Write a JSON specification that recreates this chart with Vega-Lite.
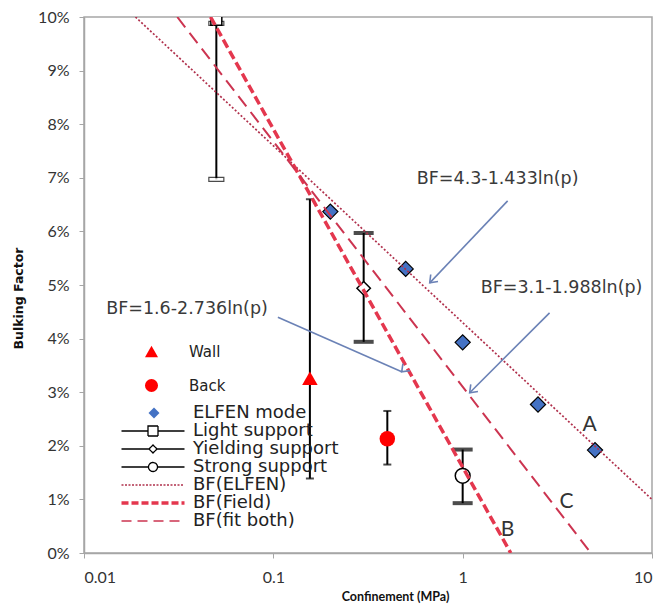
{
  "$schema": "https://vega.github.io/schema/vega-lite/v6.json",
  "width": 568,
  "height": 536,
  "autosize": {"type": "none"},
  "padding": {"left": 84, "top": 17, "right": 10, "bottom": 62},
  "background": "white",
  "config": {
    "font": "Lato",
    "view": {"stroke": "#A6A6A6", "strokeWidth": 1.5},
    "axis": {"grid": false, "domainColor": "#A6A6A6", "domainWidth": 1.5, "tickColor": "#A6A6A6", "tickSize": 5, "labelFont": "Lato", "labelFontSize": 16, "labelColor": "#333333", "titleFontWeight": "bold", "titleColor": "#111111"}
  },
  "datasets": {
    "pts": [
      {"series": "ELFEN mode", "p": 0.2, "bf": 0.0637},
      {"series": "ELFEN mode", "p": 0.5, "bf": 0.053},
      {"series": "ELFEN mode", "p": 1, "bf": 0.0393},
      {"series": "ELFEN mode", "p": 2.5, "bf": 0.0277},
      {"series": "ELFEN mode", "p": 5, "bf": 0.0192},
      {"series": "Light support", "p": 0.05, "bf": 0.0995, "lo": 0.0697, "hi": 0.0988},
      {"series": "Yielding support", "p": 0.3, "bf": 0.0494, "lo": 0.0394, "hi": 0.0597},
      {"series": "Strong support", "p": 1, "bf": 0.0144, "lo": 0.0093, "hi": 0.0193},
      {"series": "Wall", "p": 0.156, "bf": 0.0326, "lo": 0.0139, "hi": 0.066},
      {"series": "Back", "p": 0.4, "bf": 0.0213, "lo": 0.0165, "hi": 0.0265}
    ],
    "lines": [
      {"series": "BF(ELFEN)", "p": 0.0187, "bf": 0.1},
      {"series": "BF(ELFEN)", "p": 10, "bf": 0.01},
      {"series": "BF(Field)", "p": 0.0466, "bf": 0.1},
      {"series": "BF(Field)", "p": 1.795, "bf": 0},
      {"series": "BF(fit both)", "p": 0.0311, "bf": 0.1},
      {"series": "BF(fit both)", "p": 4.757, "bf": 0}
    ],
    "arrows": [
      {"id": "a1", "p": 1.728, "bf": 0.0657, "p2": 0.670, "bf2": 0.0504},
      {"id": "a2", "p": 2.877, "bf": 0.0448, "p2": 1.089, "bf2": 0.0299},
      {"id": "a3", "p": 0.1057, "bf": 0.0440, "p2": 0.4765, "bf2": 0.0338}
    ],
    "labels": [
      {"text": "BF=4.3-1.433ln(p)", "p": 1.53, "bf": 0.0698, "kind": "eq"},
      {"text": "BF=3.1-1.988ln(p)", "p": 3.33, "bf": 0.0494, "kind": "eq"},
      {"text": "BF=1.6-2.736ln(p)", "p": 0.035, "bf": 0.0455, "kind": "eq"},
      {"text": "A", "p": 4.68, "bf": 0.0239, "kind": "letter"},
      {"text": "B", "p": 1.728, "bf": 0.0043, "kind": "letter"},
      {"text": "C", "p": 3.54, "bf": 0.0095, "kind": "letter"}
    ]
  },
  "encoding": {
    "x": {"field": "p", "type": "quantitative", "scale": {"type": "log", "domain": [0.01, 10]},
      "axis": {"values": [0.01, 0.1, 1, 10], "format": "~g", "labelPadding": 11, "title": "Confinement (MPa)", "titleFont": "Lato", "titleFontSize": 12.5, "titleX": 311, "titleY": 47, "titleBaseline": "alphabetic"}},
    "y": {"field": "bf", "type": "quantitative", "scale": {"domain": [0, 0.1]},
      "axis": {"values": [0, 0.01, 0.02, 0.03, 0.04, 0.05, 0.06, 0.07, 0.08, 0.09, 0.1], "format": ".0%", "labelPadding": 10, "title": "Bulking Factor", "titleFont": "DejaVu Sans", "titleFontSize": 12.5, "titleX": -66, "titleY": 281, "titleBaseline": "middle", "titleAngle": 270}}
  },
  "layer": [
    {
      "data": {"name": "pts"},
      "transform": [{"filter": "isValid(datum.lo)"}],
      "mark": {"type": "rule", "color": "#000000", "strokeWidth": 2, "clip": true},
      "encoding": {"y": {"field": "lo", "type": "quantitative"}, "y2": {"field": "hi"}}
    },
    {
      "data": {"name": "pts"},
      "transform": [{"filter": "datum.series === 'Yielding support' || datum.series === 'Strong support'"}, {"fold": ["lo", "hi"], "as": ["end", "val"]}],
      "mark": {"type": "tick", "orient": "horizontal", "color": "#000000", "size": 20, "thickness": 4},
      "encoding": {"y": {"field": "val", "type": "quantitative"}}
    },
    {
      "data": {"name": "pts"},
      "transform": [{"filter": "datum.series === 'Wall' || datum.series === 'Back'"}, {"fold": ["lo", "hi"], "as": ["end", "val"]}],
      "mark": {"type": "tick", "orient": "horizontal", "color": "#000000", "size": 8, "thickness": 2},
      "encoding": {"y": {"field": "val", "type": "quantitative"}}
    },
    {
      "data": {"name": "pts"},
      "transform": [{"filter": "datum.series === 'Light support'"}, {"fold": ["lo", "hi"], "as": ["end", "val"]}],
      "mark": {"type": "tick", "orient": "horizontal", "fill": "#FFFFFF", "stroke": "#000000", "strokeWidth": 1.2, "size": 15, "thickness": 4, "clip": true},
      "encoding": {"y": {"field": "val", "type": "quantitative"}}
    },
    {
      "data": {"name": "pts"},
      "transform": [{"filter": "datum.series === 'ELFEN mode'"}],
      "mark": {"type": "point", "filled": true, "fill": "#4472C4", "stroke": "#000000", "strokeWidth": 1.2, "size": 230, "opacity": 1},
      "encoding": {
        "shape": {"field": "series", "type": "nominal",
          "scale": {"domain": ["ELFEN mode"], "range": ["diamond"]},
          "legend": {"title": null, "orient": "none", "legendX": 61, "legendY": 387, "symbolSize": 120, "symbolFillColor": "#4472C4", "symbolStrokeColor": "#000000", "symbolStrokeWidth": 1.2, "symbolOpacity": 1, "labelFont": "DejaVu Sans", "labelFontSize": 18, "labelColor": "#222222", "labelOffset": 30, "padding": 0,
            "encode": {"symbols": {"update": {"stroke": {"value": "#000000"}, "strokeWidth": {"value": 1.2}, "fill": {"value": "#4472C4"}}}}}}
      }
    },
    {
      "data": {"name": "pts"},
      "transform": [{"filter": "datum.series === 'Yielding support'"}],
      "mark": {"type": "point", "shape": "diamond", "filled": true, "fill": "#FFFFFF", "stroke": "#000000", "strokeWidth": 1.5, "size": 180, "opacity": 1}
    },
    {
      "data": {"name": "pts"},
      "transform": [{"filter": "datum.series === 'Strong support'"}],
      "mark": {"type": "point", "shape": "circle", "filled": true, "fill": "#FFFFFF", "stroke": "#000000", "strokeWidth": 1.5, "size": 220, "opacity": 1}
    },
    {
      "data": {"name": "pts"},
      "transform": [{"filter": "datum.series === 'Light support'"}],
      "mark": {"type": "point", "shape": "square", "filled": true, "fill": "#FFFFFF", "stroke": "#000000", "strokeWidth": 1.5, "size": 120, "opacity": 1, "clip": true}
    },
    {
      "data": {"name": "pts"},
      "transform": [{"filter": "datum.series === 'Wall' || datum.series === 'Back'"}],
      "mark": {"type": "point", "filled": true, "color": "#FF0000", "size": 240, "opacity": 1},
      "encoding": {
        "shape": {"field": "series", "type": "nominal",
          "scale": {"domain": ["Wall", "Back"], "range": ["triangle-up", "circle"]},
          "legend": {"title": null, "orient": "none", "legendX": 60, "legendY": 327, "symbolSize": 170, "symbolFillColor": "#FF0000", "symbolStrokeWidth": 0, "symbolOpacity": 1, "labelFont": "DejaVu Sans", "labelFontSize": 15, "labelColor": "#222222", "labelOffset": 30, "rowPadding": 18, "padding": 0}}
      }
    },
    {
      "data": {"name": "lines"},
      "transform": [{"filter": "datum.series === 'BF(ELFEN)'"}],
      "mark": {"type": "line", "clip": true, "color": "#B0304C", "strokeWidth": 1.7, "strokeDash": [2, 2]}
    },
    {
      "data": {"name": "lines"},
      "transform": [{"filter": "datum.series === 'BF(Field)'"}],
      "mark": {"type": "line", "clip": true, "color": "#E4374E", "strokeWidth": 3.5, "strokeDash": [9, 4]}
    },
    {
      "data": {"name": "lines"},
      "transform": [{"filter": "datum.series === 'BF(fit both)'"}],
      "mark": {"type": "line", "clip": true, "color": "#CC3450", "strokeWidth": 2, "strokeDash": [13, 7]}
    },
    {
      "data": {"name": "arrows"},
      "mark": {"type": "rule", "color": "#6B82B6", "strokeWidth": 1.6},
      "encoding": {"x2": {"field": "p2"}, "y2": {"field": "bf2"}}
    },
    {
      "data": {"name": "arrows"},
      "mark": {"type": "point", "shape": "M-1,-0.75L0,0L-1,0.75", "filled": false, "stroke": "#6B82B6", "strokeWidth": 1.6, "size": 180, "opacity": 1},
      "encoding": {
        "x": {"field": "p2", "type": "quantitative"},
        "y": {"field": "bf2", "type": "quantitative"},
        "angle": {"field": "id", "type": "nominal", "scale": {"domain": ["a1", "a2", "a3"], "range": [133.6, 135, 23.9]}, "legend": null}
      }
    },
    {
      "data": {"name": "labels"},
      "transform": [{"filter": "datum.kind === 'eq'"}],
      "mark": {"type": "text", "font": "DejaVu Sans", "fontSize": 17.5, "color": "#3A3A3A", "align": "center", "baseline": "middle"},
      "encoding": {"text": {"field": "text"}}
    },
    {
      "data": {"name": "labels"},
      "transform": [{"filter": "datum.kind === 'letter'"}],
      "mark": {"type": "text", "font": "Lato", "fontSize": 21, "color": "#333333", "align": "center", "baseline": "middle"},
      "encoding": {"text": {"field": "text"}}
    },
    {
      "data": {"name": "pts"},
      "transform": [{"filter": "datum.series !== 'Wall' && datum.series !== 'Back' && datum.series !== 'ELFEN mode'"}],
      "mark": {"type": "point", "opacity": 0, "filled": false},
      "encoding": {
        "shape": {"field": "series", "type": "nominal",
          "scale": {"domain": ["Light support", "Yielding support", "Strong support", "BF(ELFEN)", "BF(Field)", "BF(fit both)"],
            "range": ["M-6.3,0H-1M1,0H6.3M-1,-1H1V1H-1Z", "M-6.3,0H-0.8M0.8,0H6.3M0,-0.8L0.8,0L0,0.8L-0.8,0Z", "M-6.3,0H-0.9M0.9,0H6.3M-0.9,0A0.9,0.9,0,1,0,0.9,0A0.9,0.9,0,1,0,-0.9,0Z", "M-6.3,0H6.3", "M-6.3,0H6.3", "M-6.3,0H6.3"]},
          "legend": {"title": null, "orient": "none", "legendX": 60, "legendY": 405, "symbolSize": 100, "labelFont": "DejaVu Sans", "labelFontSize": 18, "labelColor": "#222222", "labelOffset": 31, "rowPadding": 0, "padding": 0,
            "encode": {"symbols": {"update": {"opacity": {"value": 1}}}}}
        },
        "stroke": {"field": "series", "type": "nominal",
          "scale": {"type": "ordinal", "domain": ["Light support", "Yielding support", "Strong support", "BF(ELFEN)", "BF(Field)", "BF(fit both)"],
            "range": ["#000000", "#000000", "#000000", "#B0304C", "#E4374E", "#CC3450"]},
          "legend": {"title": null}},
        "strokeWidth": {"field": "series", "type": "nominal",
          "scale": {"type": "ordinal", "domain": ["Light support", "Yielding support", "Strong support", "BF(ELFEN)", "BF(Field)", "BF(fit both)"],
            "range": [1.3, 1.3, 1.3, 1.5, 3.5, 1.5]},
          "legend": {"title": null}},
        "strokeDash": {"field": "series", "type": "nominal",
          "scale": {"type": "ordinal", "domain": ["Light support", "Yielding support", "Strong support", "BF(ELFEN)", "BF(Field)", "BF(fit both)"],
            "range": [[1, 0], [1, 0], [1, 0], [2, 1.5], [7, 3], [10, 6]]},
          "legend": {"title": null}}
      }
    }
  ],
  "resolve": {
    "scale": {"shape": "independent", "stroke": "independent", "strokeWidth": "independent", "strokeDash": "independent"},
    "legend": {"shape": "independent", "stroke": "independent", "strokeWidth": "independent", "strokeDash": "independent"}
  }
}
